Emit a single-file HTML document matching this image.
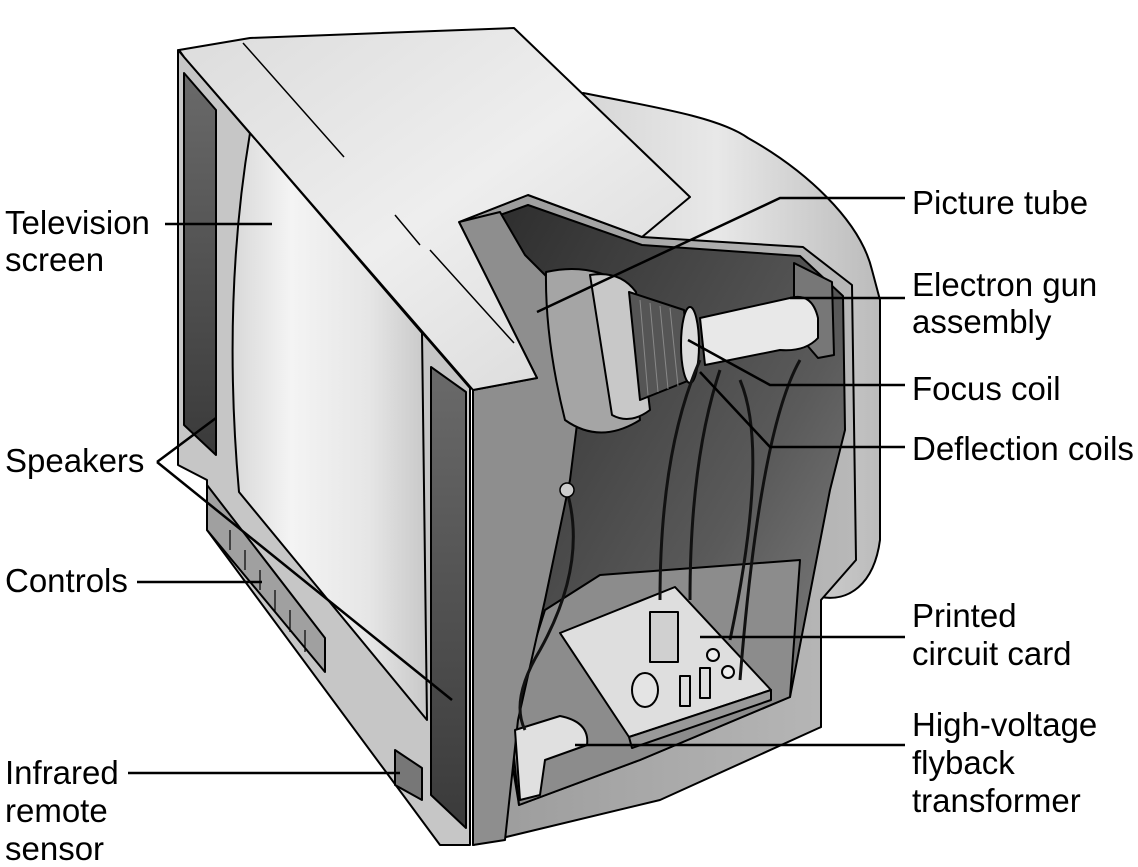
<!DOCTYPE html>
<html><head><meta charset="utf-8"><style>
html,body{margin:0;padding:0;background:#fff;}
svg{display:block;}
text{font-family:"Liberation Sans",Arial,sans-serif;font-size:33px;fill:#000;}
</style></head><body>
<svg width="1138" height="867" viewBox="0 0 1138 867" xmlns="http://www.w3.org/2000/svg">
<defs>
<linearGradient id="gScreen" x1="0" y1="0" x2="1" y2="0">
<stop offset="0" stop-color="#d8d8d8"/><stop offset="0.3" stop-color="#f4f4f4"/><stop offset="0.7" stop-color="#e6e6e6"/><stop offset="1" stop-color="#c8c8c8"/></linearGradient>
<linearGradient id="gBack" x1="0" y1="0" x2="1" y2="0">
<stop offset="0" stop-color="#c8c8c8"/><stop offset="0.6" stop-color="#e8e8e8"/><stop offset="1" stop-color="#bbbbbb"/></linearGradient>
<linearGradient id="gTop" x1="0" y1="0" x2="1" y2="1">
<stop offset="0" stop-color="#dcdcdc"/><stop offset="0.5" stop-color="#eeeeee"/><stop offset="1" stop-color="#d6d6d6"/></linearGradient>
<linearGradient id="gDark" x1="0" y1="0" x2="1" y2="1">
<stop offset="0" stop-color="#2e2e2e"/><stop offset="0.6" stop-color="#5a5a5a"/><stop offset="1" stop-color="#8a8a8a"/></linearGradient>
<linearGradient id="gSpk" x1="0" y1="0" x2="0" y2="1">
<stop offset="0" stop-color="#6a6a6a"/><stop offset="1" stop-color="#3a3a3a"/></linearGradient>
<linearGradient id="gSide" x1="0" y1="0" x2="1" y2="0">
<stop offset="0" stop-color="#9a9a9a"/><stop offset="1" stop-color="#b8b8b8"/></linearGradient>
</defs>
<g stroke="#000" stroke-width="2" stroke-linejoin="round">
<path d="M583,93 C660,108 720,118 748,138 C805,170 860,220 872,270 L880,300 L880,540 C874,585 848,602 821,597 L821,727 L473,835 Z" fill="url(#gBack)"/>
<path d="M473,390 L537,378 L459,222 L528,195 L642,237 L803,247 L852,285 L856,560 L821,600 L821,727 L660,800 L473,845 Z" fill="url(#gSide)"/>
<path d="M500,215 L528,205 L642,245 L800,256 L843,296 L845,430 L830,490 L790,697 L640,760 L519,805 L505,720 L540,560 L560,420 Z" fill="url(#gDark)"/>
<path d="M545,610 L600,575 L800,560 L790,697 L640,760 L519,805 L510,720 Z" fill="#8c8c8c"/>
<path d="M794,263 L832,282 L834,355 L818,358 L794,330 Z" fill="#777"/>
<path d="M459,222 L500,212 L525,255 L560,290 L580,400 L570,480 L545,600 L518,720 L505,840 L473,845 L473,390 L537,378 Z" fill="#8e8e8e"/>
<path d="M546,272 Q590,262 625,285 L640,420 Q600,445 565,420 Q545,340 546,272 Z" fill="#a5a5a5"/>
<path d="M590,275 Q620,270 636,292 L650,410 Q630,425 612,415 Z" fill="#c8c8c8"/>
<path d="M629,292 L684,310 L690,380 L640,400 Z" fill="#555"/>
<ellipse cx="690" cy="345" rx="9" ry="38" fill="#ddd"/>
<path d="M700,318 L790,298 Q812,292 818,318 L818,338 Q805,352 780,350 L705,365 Z" fill="#e8e8e8"/>
<path d="M560,633 L675,587 L771,690 L629,737 Z" fill="#dedede"/>
<path d="M629,737 L771,690 L771,700 L632,748 Z" fill="#999"/>
<rect x="650" y="612" width="28" height="50" fill="#d0d0d0"/>
<ellipse cx="645" cy="690" rx="13" ry="17" fill="#e4e4e4"/>
<rect x="680" y="676" width="10" height="30" fill="#ddd"/>
<rect x="700" y="668" width="10" height="30" fill="#ddd"/>
<circle cx="713" cy="655" r="6" fill="#eee"/>
<circle cx="728" cy="672" r="6" fill="#eee"/>
<path d="M515,730 L560,716 Q590,722 587,745 L545,760 L540,795 L520,800 Z" fill="#e0e0e0"/>
<path d="M178,50 L470,388 L470,845 L440,845 L207,530 L207,480 L178,465 Z" fill="#c6c6c6"/>
<path d="M250,133 L422,333 L427,720 L239,492 Q222,300 250,133 Z" fill="url(#gScreen)"/>
<path d="M184,73 L216,110 L216,455 L184,425 Z" fill="url(#gSpk)"/>
<path d="M431,367 L466,392 L466,828 L431,795 Z" fill="url(#gSpk)"/>
<path d="M207,485 L325,638 L325,672 L207,530 Z" fill="#a0a0a0"/>
<path d="M395,750 L422,768 L422,800 L395,785 Z" fill="#777"/>
</g>
<path d="M179,50 L250,38 L514,28 L690,197 L642,237 L528,195 L459,222 L537,378 L473,390 L184,57 Z" fill="url(#gTop)" stroke="#000" stroke-width="2" stroke-linejoin="round"/>
<path d="M243,43 L344,157 M395,215 L420,245 M430,250 L514,343" stroke="#000" stroke-width="1.5" fill="none"/>
<g stroke="#888" stroke-width="1">
<path d="M640,300 L648,395 M650,303 L658,392 M660,306 L668,389 M670,308 L678,386"/>
</g>
<g stroke="#000" stroke-width="1.2" fill="none">
<path d="M230,530 L230,550 M245,550 L245,570 M260,570 L260,590 M275,590 L275,612 M290,610 L290,632 M305,630 L305,652"/>
</g>
<g fill="none" stroke="#111" stroke-width="3">
<path d="M700,360 Q660,450 660,600"/>
<path d="M720,370 Q690,460 690,600"/>
<path d="M740,380 Q770,450 730,640"/>
<path d="M800,360 Q760,430 740,680"/>
<path d="M565,485 Q590,560 540,650 Q510,700 525,730"/>
</g>
<circle cx="567" cy="490" r="7" fill="#ccc" stroke="#000" stroke-width="1.5"/>
<g fill="none" stroke="#000" stroke-width="2.5">
<path d="M165,224 L272,224"/>
<path d="M537,312 L780,198 L905,198"/>
<path d="M790,298 L905,298"/>
<path d="M688,340 L770,385 L905,385"/>
<path d="M700,372 L770,447 L905,447"/>
<path d="M157,462 L216,418"/>
<path d="M157,462 L452,700"/>
<path d="M137,582 L262,582"/>
<path d="M700,637 L905,637"/>
<path d="M575,745 L905,745"/>
<path d="M128,773 L400,773"/>
</g>
<text x="5" y="234">Television</text>
<text x="5" y="271">screen</text>
<text x="5" y="472">Speakers</text>
<text x="5" y="592">Controls</text>
<text x="5" y="784">Infrared</text>
<text x="5" y="822">remote</text>
<text x="5" y="860">sensor</text>
<text x="912" y="214">Picture tube</text>
<text x="912" y="296">Electron gun</text>
<text x="912" y="333">assembly</text>
<text x="912" y="400">Focus coil</text>
<text x="912" y="460">Deflection coils</text>
<text x="912" y="627">Printed</text>
<text x="912" y="665">circuit card</text>
<text x="912" y="736">High-voltage</text>
<text x="912" y="774">flyback</text>
<text x="912" y="812">transformer</text>
</svg>
</body></html>
